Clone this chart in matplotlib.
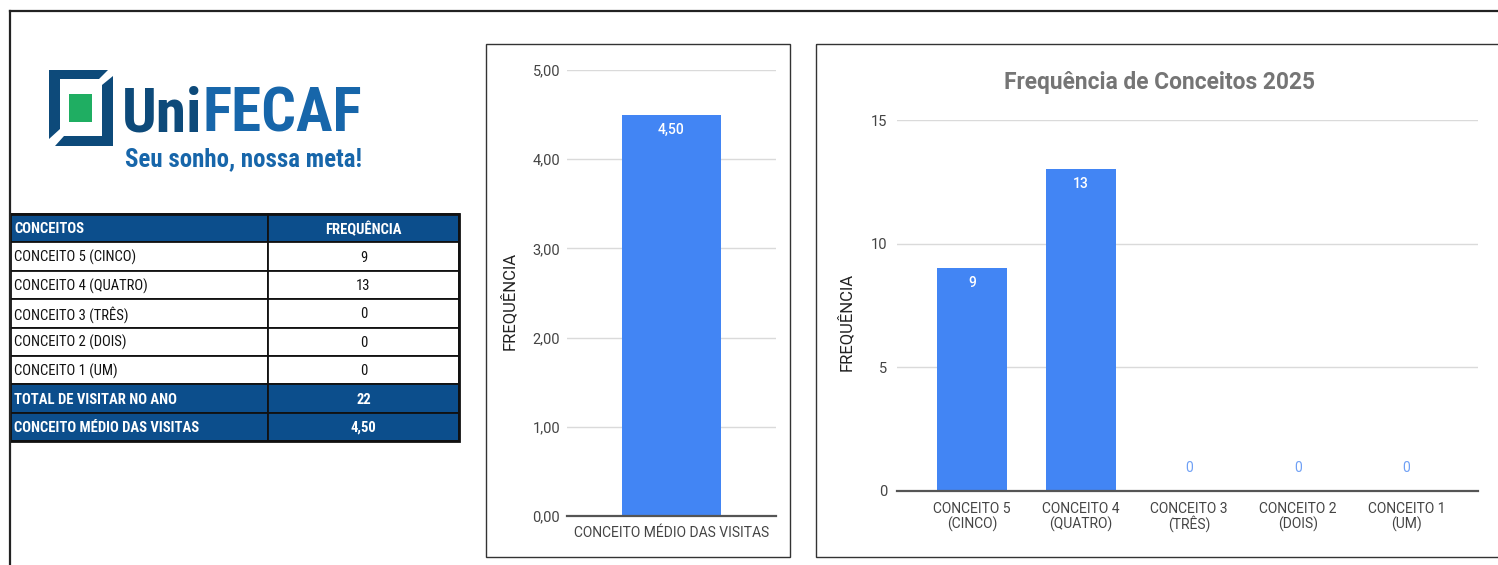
import matplotlib
matplotlib.use('Agg')
import matplotlib.pyplot as plt
from matplotlib.patches import Rectangle, Polygon
from matplotlib import font_manager as fm

# ---------------- data ----------------
conceitos = ["CONCEITO 5 (CINCO)", "CONCEITO 4 (QUATRO)", "CONCEITO 3 (TRÊS)",
             "CONCEITO 2 (DOIS)", "CONCEITO 1 (UM)"]
frequencias = [9, 13, 0, 0, 0]
bar_categorias = ["CONCEITO 5\n(CINCO)", "CONCEITO 4\n(QUATRO)", "CONCEITO 3\n(TRÊS)",
                  "CONCEITO 2\n(DOIS)", "CONCEITO 1\n(UM)"]
header_cols = ["CONCEITOS", "FREQUÊNCIA"]
total_label = "TOTAL DE VISITAR NO ANO"
total_visitas = 22
media_label = "CONCEITO MÉDIO DAS VISITAS"
media_visitas = 4.50
media_ticks = [0, 1, 2, 3, 4, 5]
freq_ticks = [0, 5, 10, 15]
titulo = "Frequência de Conceitos 2025"
ylabel = "FREQUÊNCIA"
logo_a, logo_b = "Uni", "FECAF"
slogan = "Seu sonho, nossa meta!"

def br(v, d=2):
    return f"{v:.{d}f}".replace('.', ',')

# ---------------- fonts ----------------
names = {f.name for f in fm.fontManager.ttflist}
NARROW = None
for cand in ['Liberation Sans Narrow', 'Roboto Condensed', 'Open Sans Condensed', 'Liberation Sans']:
    if cand in names:
        NARROW = cand
        break
if NARROW is None:
    NARROW = 'DejaVu Sans'
NARROW = [NARROW, 'DejaVu Sans']
CHART = ['Roboto', 'Liberation Sans', 'DejaVu Sans']

W, H = 1498, 565
fig = plt.figure(figsize=(W / 100, H / 100), dpi=100)
fig.patch.set_facecolor('white')

def ax_px(x0, y0, x1, y1):
    return fig.add_axes([x0 / W, 1 - y1 / H, (x1 - x0) / W, (y1 - y0) / H])

ov = fig.add_axes([0, 0, 1, 1])
ov.set_xlim(0, W)
ov.set_ylim(H, 0)
ov.axis('off')
ov.set_zorder(0)

# outer frame
ov.plot([10, 10], [11, H + 2], color='#222222', lw=1.6, clip_on=False)
ov.plot([10, W + 2], [11, 11], color='#222222', lw=1.6, clip_on=False)

# chart boxes
ov.add_patch(Rectangle((486, 44), 304, 513, fill=False, ec='#333333', lw=1.0))
ov.add_patch(Rectangle((816, 44), 700, 513, fill=False, ec='#333333', lw=1.0))

# ---------------- logo ----------------
DARK = '#0d4a7a'
BLUE = '#1766aa'
GREEN = '#1fae62'
ov.add_patch(Polygon([(49, 70), (108, 70), (99, 79), (60, 79), (60, 129), (49, 139)],
                     closed=True, color=DARK, lw=0))
ov.add_patch(Polygon([(113, 76), (113, 146), (55, 146), (64, 136), (102, 136), (102, 85)],
                     closed=True, color=DARK, lw=0))
ov.add_patch(Rectangle((69, 94), 23, 28, color=GREEN, lw=0))

renderer = fig.canvas.get_renderer()

def fit_text(x, y, s, width, size, **kw):
    t = ov.text(x, y, s, fontsize=size, **kw)
    bb = t.get_window_extent(renderer)
    t.set_fontsize(size * width / bb.width)
    return t

tA = ov.text(122, 132, logo_a, fontsize=44, fontweight='heavy', color=DARK,
             family=NARROW, va='baseline', ha='left')
tB = ov.text(200, 132, logo_b, fontsize=44, fontweight='heavy', color=BLUE,
             family=NARROW, va='baseline', ha='left')
wa = tA.get_window_extent(renderer).width
wb = tB.get_window_extent(renderer).width
scale = 240 / (wa + wb)
tA.set_fontsize(44 * scale)
tB.set_fontsize(44 * scale)
wa = tA.get_window_extent(renderer).width
tB.set_x(122 + wa)

fit_text(125, 166, slogan, 237, 18, fontweight='bold', color=BLUE, family=NARROW,
         va='baseline', ha='left')

# ---------------- table ----------------
HEAD = '#0c4e8c'
y0, rh = 214, 28.4
xL, xM, xR = 10, 268, 459
rows = [(header_cols[0], header_cols[1], True)]
for c, f in zip(conceitos, frequencias):
    rows.append((c, str(f), False))
rows.append((total_label, str(total_visitas), True))
rows.append((media_label, br(media_visitas), True))

for i, (a, b, dark) in enumerate(rows):
    top = y0 + i * rh
    fc = HEAD if dark else 'white'
    tc = 'white' if dark else '#111111'
    fw = 'bold' if dark else 'normal'
    ov.add_patch(Rectangle((xL, top), xM - xL, rh, fc=fc, ec='#111111', lw=1.3))
    ov.add_patch(Rectangle((xM, top), xR - xM, rh, fc=fc, ec='#111111', lw=1.3))
    cy = top + rh / 2 + 1
    ov.text(14, cy, a, fontsize=10.5, color=tc, fontweight=fw, family=NARROW,
            va='center', ha='left')
    ov.text((xM + xR) / 2, cy, b, fontsize=10.5, color=tc, fontweight=fw, family=NARROW,
            va='center', ha='center')
ov.add_patch(Rectangle((xL, y0), xR - xL, rh * len(rows), fill=False, ec='#111111', lw=2))

BAR = '#4285f4'
GRID = '#dadada'
TICK = '#444444'

# ---------------- chart 1 ----------------
ax1 = ax_px(567, 70, 776, 516)
ax1.set_zorder(1)
ax1.patch.set_alpha(0)
ax1.set_xlim(-0.5, 0.5)
ax1.set_ylim(0, 5)
ax1.bar([0], [media_visitas], width=0.475, color=BAR, zorder=2)
ax1.set_yticks(media_ticks)
ax1.set_yticklabels([br(v) for v in media_ticks], family=CHART, fontsize=10.5, color=TICK)
ax1.set_xticks([0])
ax1.set_xticklabels([media_label], family=CHART, fontsize=10, color=TICK)
ax1.tick_params(axis='both', length=0)
ax1.tick_params(axis='y', pad=5)
ax1.tick_params(axis='x', pad=7)
ax1.grid(axis='y', color=GRID, lw=1, zorder=0)
ax1.set_axisbelow(True)
for s in ax1.spines.values():
    s.set_visible(False)
ax1.axhline(0, color='#555555', lw=1.6, zorder=3, clip_on=False)
ax1.set_ylabel(ylabel, family=CHART, fontsize=12, color='#222222')
ax1.yaxis.set_label_coords(-0.24, 0.482)
ax1.annotate(br(media_visitas), (0, media_visitas), xytext=(0, -11), textcoords='offset points',
             ha='center', va='center', color='white', fontsize=10, family=CHART,
             fontweight='medium', zorder=4)

# ---------------- chart 2 ----------------
AX2_H = 491 - 120
ax2 = ax_px(897, 120, 1478, 491)
ax2.set_zorder(1)
ax2.patch.set_alpha(0)
xs = list(range(len(frequencias)))
ax2.set_xlim(-0.69, 4.66)
ax2.set_ylim(0, 15)
ax2.bar(xs, frequencias, width=0.645, color=BAR, zorder=2)
ax2.set_yticks(freq_ticks)
ax2.set_yticklabels([str(v) for v in freq_ticks], family=CHART, fontsize=10.5, color=TICK)
ax2.set_xticks(xs)
ax2.set_xticklabels([''] * len(xs))
ax2.tick_params(axis='both', length=0)
ax2.tick_params(axis='y', pad=7)
ax2.grid(axis='y', color=GRID, lw=1, zorder=0)
ax2.set_axisbelow(True)
for s in ax2.spines.values():
    s.set_visible(False)
ax2.axhline(0, color='#555555', lw=1.6, zorder=3, clip_on=False)
ax2.set_ylabel(ylabel, family=CHART, fontsize=12, color='#222222')
ax2.yaxis.set_label_coords(-0.074, 0.455)
xtr = ax2.get_xaxis_transform()
for x, lab in zip(xs, bar_categorias):
    for k, line in enumerate(lab.split('\n')):
        ax2.text(x, -(22 + 15.5 * k) / AX2_H, line, transform=xtr, ha='center',
                 va='baseline', family=CHART, fontsize=10, color=TICK, clip_on=False)
for x, v in zip(xs, frequencias):
    if v > 0:
        ax2.annotate(str(v), (x, v), xytext=(0, -10.5), textcoords='offset points',
                     ha='center', va='center', color='white', fontsize=10,
                     family=CHART, fontweight='medium', zorder=4)
    else:
        ax2.annotate(str(v), (x, v), xytext=(0, 16.5), textcoords='offset points',
                     ha='center', va='center', color='#6fa0f5', fontsize=10,
                     family=CHART, zorder=4)

fig.text(1159 / W, 1 - 82 / H, titulo, ha='center', va='center', fontsize=16.4,
         fontweight='bold', color='#757575', family=CHART)

fig.savefig('out.png', dpi=100, facecolor='white')
